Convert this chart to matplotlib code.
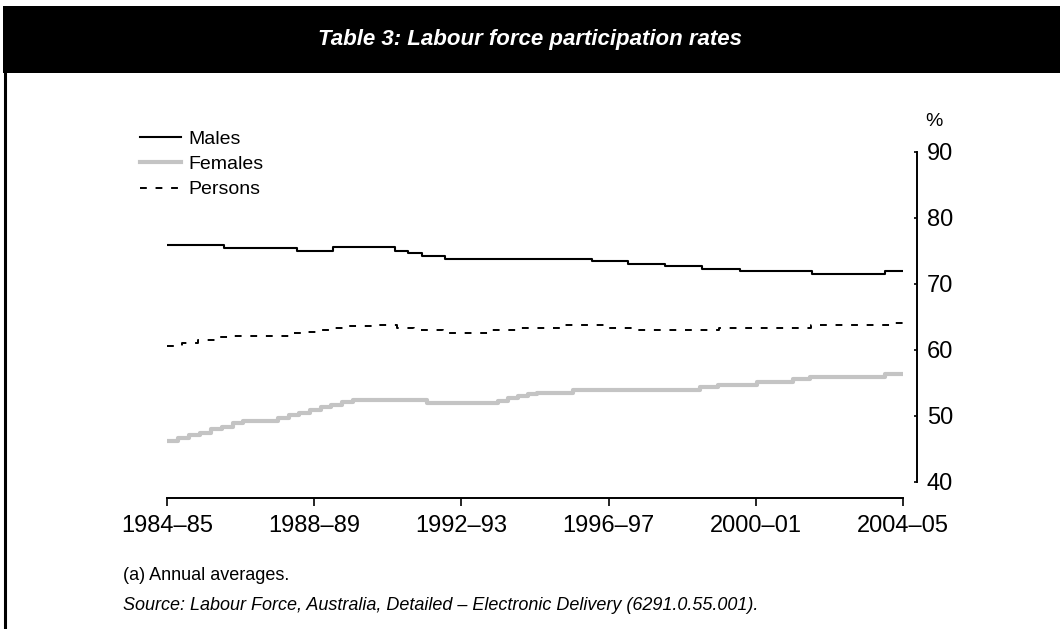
import matplotlib
matplotlib.use("Agg")
import matplotlib.pyplot as plt
from matplotlib.patches import Rectangle
from matplotlib.lines import Line2D

narrow = ["Liberation Sans Narrow", "Liberation Sans", "DejaVu Sans"]
plt.rcParams["font.family"] = narrow

# years since 1984-85 where each step starts, and the rate (%)
males_t = [0, 1.55, 3.53, 4.51, 6.2, 6.55, 6.93, 7.55, 11.55, 12.53, 13.53, 14.54, 15.57, 17.53, 19.51, 20]
males_v = [75.9, 75.45, 75.0, 75.55, 75.05, 74.65, 74.3, 73.85, 73.5, 73.1, 72.7, 72.3, 71.9, 71.55, 72.0, 72.0]

females_t = [0, 0.3, 0.6, 0.9, 1.2, 1.5, 1.8, 2.07, 3.02, 3.31, 3.6, 3.89, 4.18, 4.47, 4.76, 5.05,
             7.06, 8.99, 9.26, 9.53, 9.8, 10.05, 11.03, 14.48, 14.97, 16.03, 17.01, 17.47, 19.51, 20]
females_v = [46.2, 46.6, 47.1, 47.5, 48.0, 48.4, 48.9, 49.3, 49.7, 50.1, 50.5, 50.9, 51.3, 51.7, 52.1, 52.4,
             51.9, 52.3, 52.7, 53.1, 53.3, 53.5, 53.9, 54.35, 54.75, 55.15, 55.55, 55.95, 56.3, 56.3]

persons_t = [0, 0.4, 0.85, 1.3, 1.65, 3.35, 3.7, 4.1, 4.5, 4.95, 5.8, 6.25, 6.7, 7.5, 8.75, 9.6,
             10.7, 11.9, 12.8, 15.0, 17.5, 19.7, 20]
persons_v = [60.6, 61.0, 61.5, 61.9, 62.1, 62.5, 62.8, 63.1, 63.4, 63.7, 63.8, 63.4, 63.0, 62.6, 63.0, 63.4,
             63.8, 63.4, 63.0, 63.4, 63.8, 64.1, 64.1]

tick_pos = [0, 4, 8, 12, 16, 20]
tick_labels = ["1984–85", "1988–89", "1992–93", "1996–97", "2000–01", "2004–05"]
y_ticks = [40, 50, 60, 70, 80, 90]

W, H = 1060, 629
fig = plt.figure(figsize=(W / 100, H / 100), dpi=100)
ax = fig.add_axes([167 / W, 1 - 482 / H, (903 - 167) / W, (482 - 152) / H])

ax.plot(females_t, females_v, drawstyle="steps-post", color="#c4c4c4", lw=3.0, label="Females")
ax.plot(males_t, males_v, drawstyle="steps-post", color="black", lw=1.5, label="Males")
ax.plot(persons_t, persons_v, drawstyle="steps-post", color="black", lw=1.4,
        dashes=(3.5, 4.5), label="Persons")

ax.set_xlim(0, 20)
ax.set_ylim(40, 90)

# axes look
for s in ["top", "left"]:
    ax.spines[s].set_visible(False)
ax.spines["right"].set_position(("outward", 10))
ax.spines["right"].set_bounds(40, 90)
ax.spines["bottom"].set_position(("outward", 11.5))
ax.spines["bottom"].set_bounds(0, 20)
ax.spines["right"].set_linewidth(1.4)
ax.spines["bottom"].set_linewidth(1.4)

ax.yaxis.tick_right()
ax.set_yticks(y_ticks)
ax.tick_params(axis="y", direction="in", length=2.5, width=1.2, pad=7, labelsize=17)
ax.set_xticks(tick_pos)
ax.set_xticklabels(tick_labels)
ax.tick_params(axis="x", direction="out", length=6, width=1.2, pad=6, labelsize=17)

# legend
h = ax.get_legend_handles_labels()[0]
fig.legend([h[1], h[0], h[2]], ["Males", "Females", "Persons"], loc="upper left",
           bbox_to_anchor=(140 / W, 1 - 130 / H), frameon=False, fontsize=14,
           handlelength=2.1, handletextpad=0.4, labelspacing=0.4, borderpad=0, borderaxespad=0)

fig.text(934 / W, 1 - 122 / H, "%", fontsize=14, ha="center", va="center")

# header bar and border
fig.patches.append(Rectangle((3 / W, 1 - 73 / H), 1, 67 / H, transform=fig.transFigure,
                             facecolor="black", edgecolor="none"))
fig.lines.append(Line2D([4.5 / W, 4.5 / W], [0, 1 - 73 / H], transform=fig.transFigure,
                        color="black", lw=2.2))
fig.text(530 / W, 1 - 40 / H, "Table 3: Labour force participation rates", color="white",
         fontsize=16, fontweight="bold", fontstyle="italic", family=["Liberation Sans", "DejaVu Sans"],
         ha="center", va="center")

# notes
fig.text(123 / W, 1 - 576 / H, "(a) Annual averages.", fontsize=13, va="center")
fig.text(123 / W, 1 - 606 / H,
         "Source: Labour Force, Australia, Detailed – Electronic Delivery (6291.0.55.001).",
         fontsize=13, fontstyle="italic", va="center")

fig.savefig("out.png", dpi=100)
